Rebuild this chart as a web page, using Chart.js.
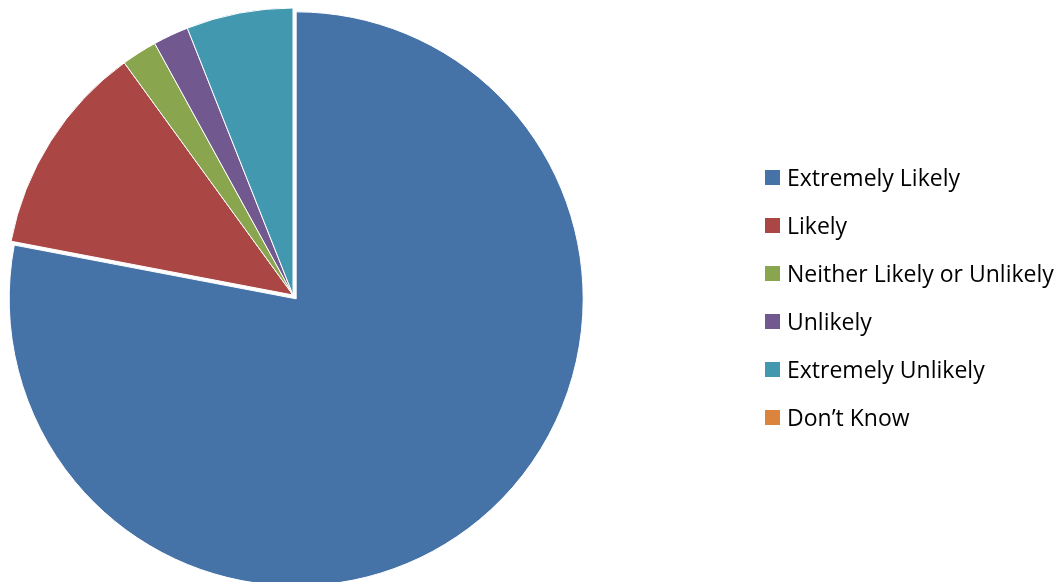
<!DOCTYPE html>
<html>
<head>
<meta charset="utf-8">
<script src="https://cdn.jsdelivr.net/npm/chart.js@4"></script>
<style>
  html, body { margin: 0; padding: 0; background: #fff; overflow: hidden; width: 1061px; height: 582px; }
  #wrap { position: absolute; left: 0; top: 0; width: 1061px; height: 600px; }
  #legend { position: absolute; left: 765px; top: 153px; font-family: "Open Sans", Lato, sans-serif; font-size: 23px; color: #000; }
  .item { position: absolute; left: 0; height: 48px; white-space: nowrap; display: flex; align-items: center; }
  .box { width: 15px; height: 15px; margin-right: 7px; }
</style>
</head>
<body>
<div id="wrap"><canvas id="c" width="1061" height="600" style="width:1061px;height:600px"></canvas></div>
<div id="legend"></div>
<script>
const categories = ["Extremely Likely", "Likely", "Neither Likely or Unlikely", "Unlikely", "Extremely Unlikely", "Don\u2019t Know"];
const values = [78, 12, 2, 2, 6, 0];
const colors = ["#4572A7", "#AA4643", "#89A54E", "#71588F", "#4198AF", "#DB843D"];
const explode = [5, 0, 0, 0, 0, 0];

const explodePlugin = {
  id: 'explode',
  afterDatasetsUpdate(chart) {
    const meta = chart.getDatasetMeta(0);
    meta.data.forEach((arc, i) => {
      const d = explode[i];
      if (!d) return;
      const mid = (arc.startAngle + arc.endAngle) / 2;
      arc.x += Math.cos(mid) * d;
      arc.y += Math.sin(mid) * d;
    });
  }
};

new Chart(document.getElementById('c'), {
  type: 'pie',
  data: {
    labels: categories,
    datasets: [{
      data: values,
      backgroundColor: colors,
      borderColor: '#ffffff',
      borderWidth: 1
    }]
  },
  options: {
    responsive: false,
    animation: false,
    devicePixelRatio: 1,
    radius: 287,
    layout: { padding: { left: 0, right: 475, top: 0, bottom: 10 } },
    plugins: { legend: { display: false }, tooltip: { enabled: false } }
  },
  plugins: [explodePlugin]
});

const legend = document.getElementById('legend');
categories.forEach((name, i) => {
  const row = document.createElement('div');
  row.className = 'item';
  row.style.top = (i * 48) + 'px';
  const box = document.createElement('span');
  box.className = 'box';
  box.style.background = colors[i];
  const txt = document.createElement('span');
  txt.textContent = name;
  row.appendChild(box);
  row.appendChild(txt);
  legend.appendChild(row);
});
</script>
</body>
</html>
